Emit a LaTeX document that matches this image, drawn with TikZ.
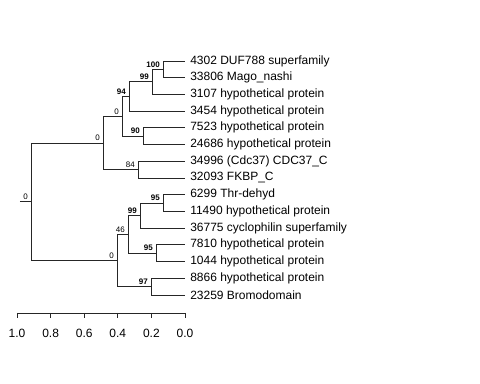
\documentclass[tikz,border=0pt]{standalone}
\usepackage{fontspec}
\setmainfont{Liberation Sans}
\begin{document}
\begin{tikzpicture}[x=0.75pt,y=-0.75pt,
  br/.style={draw=black!85,line width=0.65pt},
  leaf/.style={anchor=west,inner sep=0pt,font=\fontsize{9pt}{10pt}\selectfont},
  bs/.style={anchor=south east,inner sep=0pt,font=\fontsize{6pt}{7pt}\selectfont\bfseries},
  ns/.style={anchor=south east,inner sep=0pt,font=\fontsize{6pt}{7pt}\selectfont},
  ax/.style={inner sep=0pt,font=\fontsize{9pt}{10pt}\selectfont}]
\useasboundingbox (0,0) rectangle (480,384);
% tips
\foreach \i/\y in {1/61,2/77.7,3/94.4,4/111.1,5/127.8,6/144.6,7/161.3,8/178.0,9/194.7,10/211.4,11/228.1,12/244.8,13/261.5,14/278.2,15/295.0}
  {\coordinate (t\i) at (185,\y);}
% leaf labels
\node[leaf] (l1) at (190,61) {4302 DUF788 superfamily};
\node[leaf] (l2) at (190,77.7) {33806 Mago\_nashi};
\node[leaf] (l3) at (190,94.4) {3107 hypothetical protein};
\node[leaf] (l4) at (190,111.1) {3454 hypothetical protein};
\node[leaf] (l5) at (190,127.8) {7523 hypothetical protein};
\node[leaf] (l6) at (190,144.6) {24686 hypothetical protein};
\node[leaf] (l7) at (190,161.3) {34996 (Cdc37) CDC37\_C};
\node[leaf] (l8) at (190,178.0) {32093 FKBP\_C};
\node[leaf] (l9) at (190,194.7) {6299 Thr-dehyd};
\node[leaf] (l10) at (190,211.4) {11490 hypothetical protein};
\node[leaf] (l11) at (190,228.1) {36775 cyclophilin superfamily};
\node[leaf] (l12) at (190,244.8) {7810 hypothetical protein};
\node[leaf] (l13) at (190,261.5) {1044 hypothetical protein};
\node[leaf] (l14) at (190,278.2) {8866 hypothetical protein};
\node[leaf] (l15) at (190,295.0) {23259 Bromodomain};
% internal nodes
\coordinate (n100) at (163,69.35);
\coordinate (n99a) at (152,81.88);
\coordinate (n94) at (129,96.49);
\coordinate (n90) at (143,136.2);
\coordinate (n0a) at (122,116.35);
\coordinate (n84) at (138,169.65);
\coordinate (n0b) at (103,143);
\coordinate (n95a) at (163,203.05);
\coordinate (n99b) at (140,215.58);
\coordinate (n95b) at (156,253.15);
\coordinate (n46) at (128,234.36);
\coordinate (n97) at (151,286.6);
\coordinate (n0c) at (117,260.48);
\coordinate (root) at (31,201.74);
\coordinate (r0) at (20,201.74);
% branches
\draw[br] (n100) |- (t1); \draw[br] (n100) |- (t2);
\draw[br] (n99a) |- (n100); \draw[br] (n99a) |- (t3);
\draw[br] (n94) |- (n99a); \draw[br] (n94) |- (t4);
\draw[br] (n90) |- (t5); \draw[br] (n90) |- (t6);
\draw[br] (n0a) |- (n94); \draw[br] (n0a) |- (n90);
\draw[br] (n84) |- (t7); \draw[br] (n84) |- (t8);
\draw[br] (n0b) |- (n0a); \draw[br] (n0b) |- (n84);
\draw[br] (n95a) |- (t9); \draw[br] (n95a) |- (t10);
\draw[br] (n99b) |- (n95a); \draw[br] (n99b) |- (t11);
\draw[br] (n95b) |- (t12); \draw[br] (n95b) |- (t13);
\draw[br] (n46) |- (n99b); \draw[br] (n46) |- (n95b);
\draw[br] (n97) |- (t14); \draw[br] (n97) |- (t15);
\draw[br] (n0c) |- (n46); \draw[br] (n0c) |- (n97);
\draw[br] (root) |- (n0b); \draw[br] (root) |- (n0c);
\draw[br] (r0) -- (root);
% support labels
\node[bs] (s100) at ([shift={(-3,-2)}]n100) {100};
\node[bs] (s99a) at ([shift={(-3,-2)}]n99a) {99};
\node[bs] (s94) at ([shift={(-3,-2)}]n94) {94};
\node[bs] (s90) at ([shift={(-3,-2)}]n90) {90};
\node[ns] (s0a) at ([shift={(-3,-2)}]n0a) {0};
\node[ns] (s84) at ([shift={(-3,-2)}]n84) {84};
\node[ns] (s0b) at ([shift={(-3,-2)}]n0b) {0};
\node[bs] (s95a) at ([shift={(-3,-2)}]n95a) {95};
\node[bs] (s99b) at ([shift={(-3,-2)}]n99b) {99};
\node[bs] (s95b) at ([shift={(-3,-2)}]n95b) {95};
\node[ns] (s46) at ([shift={(-3,-2)}]n46) {46};
\node[bs] (s97) at ([shift={(-3,-2)}]n97) {97};
\node[ns] (s0c) at ([shift={(-3,-2)}]n0c) {0};
\node[ns,anchor=south] (sr) at ([shift={(5.5,-2)}]r0) {0};
% axis
\coordinate (a0) at (17,313);
\coordinate (a1) at (185,313);
\draw[br] (a0) -- (a1);
\foreach \x/\t [count=\k] in {17/1.0,50.6/0.8,84.2/0.6,117.8/0.4,151.4/0.2,185/0.0}{
  \coordinate (tk\k) at (\x,313);
  \draw[br] (tk\k) -- ++(0,5);
  \node[ax] (al\k) at (\x,333) {\t};
}
\end{tikzpicture}
\end{document}
